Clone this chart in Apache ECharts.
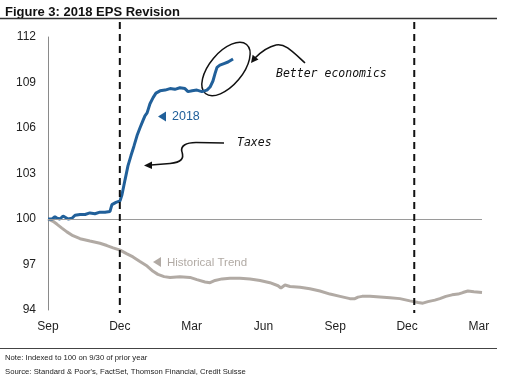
<!DOCTYPE html>
<html>
<head>
<meta charset="utf-8">
<script src="https://cdn.jsdelivr.net/npm/echarts@6/dist/echarts.min.js"></script>
<style>
html,body{margin:0;padding:0;background:#fff;}
#chart{width:513px;height:384px;}
</style>
</head>
<body>
<div id="chart"></div>
<script>
// x values are months since 30 Sep of the prior year
const xTickLabels = ['Sep', 'Dec', 'Mar', 'Jun', 'Sep', 'Dec', 'Mar'];
const yTicks = [94, 97, 100, 103, 106, 109, 112];
const eventMonths = [3.0, 15.3];

const eps2018Months = [0.00,0.17,0.29,0.38,0.50,0.63,0.71,0.84,1.00,1.13,1.34,1.55,1.75,1.96,2.17,2.38,2.59,2.67,2.84,3.01,3.09,3.22,3.34,3.47,3.59,3.72,3.84,3.97,4.05,4.14,4.26,4.39,4.51,4.68,4.89,5.10,5.30,5.51,5.72,5.85,6.02,6.22,6.43,6.64,6.77,6.89,6.98,7.06,7.18,7.35,7.52,7.73];
const eps2018Values = [100.0,100.0,100.15,100.05,100.0,100.2,100.1,100.0,100.05,100.25,100.3,100.3,100.4,100.35,100.45,100.45,100.5,100.95,101.1,101.2,101.6,102.6,103.5,104.2,104.8,105.5,106.0,106.5,106.8,107.0,107.6,108.0,108.3,108.45,108.5,108.6,108.55,108.65,108.6,108.4,108.45,108.5,108.4,108.5,108.7,109.1,109.6,110.0,110.15,110.25,110.35,110.55];

const histMonths = [0,0.21,0.38,0.58,0.79,1.04,1.34,1.75,2.17,2.46,2.72,3.01,3.30,3.55,3.84,4.14,4.39,4.59,4.85,5.10,5.51,5.93,6.22,6.56,6.77,6.98,7.27,7.60,8.02,8.44,8.86,9.27,9.61,9.73,9.90,10.11,10.53,10.94,11.36,11.78,12.20,12.61,12.82,12.95,13.12,13.45,13.87,14.29,14.70,15.12,15.46,15.66,15.87,16.16,16.37,16.62,16.88,17.13,17.33,17.54,17.79,18.13];
const histValues = [100,99.85,99.65,99.4,99.15,98.9,98.7,98.55,98.4,98.25,98.1,97.95,97.7,97.5,97.2,96.9,96.55,96.35,96.2,96.15,96.2,96.15,96.0,95.85,95.8,95.95,96.05,96.1,96.1,96.05,95.95,95.8,95.6,95.45,95.65,95.55,95.5,95.4,95.25,95.05,94.9,94.75,94.75,94.85,94.9,94.9,94.85,94.8,94.75,94.6,94.5,94.45,94.55,94.65,94.75,94.9,95.0,95.05,95.15,95.25,95.2,95.15];

const BLUE = '#21609a';
const GRAY = '#b1aaa4';
const BASE_FONT = '"Liberation Sans", Arial, sans-serif';
const HAND_FONT = '"DejaVu Sans Mono", monospace';

const chart = echarts.init(document.getElementById('chart'), null, {renderer: 'canvas'});

const zip = (xs, ys) => xs.map((x, i) => [x, ys[i]]);

const option = {
  animation: false,
  backgroundColor: '#fff',
  grid: {left: 48, top: 37, width: 434, height: 273, containLabel: false},
  xAxis: {
    type: 'value', min: 0, max: 18.13, interval: 3,
    axisLine: {show: false}, axisTick: {show: false}, splitLine: {show: false},
    axisLabel: {
      margin: 11, color: '#222', fontSize: 12, fontFamily: BASE_FONT,
      showMaxLabel: false,
      formatter: v => { const i = Math.round(v / 3); return Math.abs(v - i * 3) < 1e-6 ? (xTickLabels[i] || '') : ''; }
    }
  },
  yAxis: {
    type: 'value', min: yTicks[0], max: yTicks[yTicks.length - 1], interval: 3,
    axisLine: {show: true, lineStyle: {color: '#8a8a8a', width: 1}},
    axisTick: {show: false}, splitLine: {show: false},
    axisLabel: {margin: 12, color: '#222', fontSize: 12, fontFamily: BASE_FONT}
  },
  series: [
    {
      name: 'Historical Trend', type: 'line', data: zip(histMonths, histValues),
      showSymbol: false, smooth: false, z: 2,
      lineStyle: {color: GRAY, width: 3},
      markLine: {
        silent: true, symbol: 'none', label: {show: false},
        lineStyle: {color: '#9a9a9a', width: 1, type: 'solid'},
        data: [{yAxis: 100}]
      }
    },
    {
      name: '2018', type: 'line', data: zip(eps2018Months, eps2018Values),
      showSymbol: false, smooth: false, z: 3,
      lineStyle: {color: BLUE, width: 3}
    }
  ]
};
chart.setOption(option);

function bez(x1, y1, c1x, c1y, c2x, c2y, x2, y2) {
  return {type: 'bezierCurve', shape: {x1: x1, y1: y1, cpx1: c1x, cpy1: c1y, cpx2: c2x, cpy2: c2y, x2: x2, y2: y2},
    style: {fill: null, stroke: '#111', lineWidth: 1.6}};
}
function seg(x1, y1, x2, y2) {
  return {type: 'line', shape: {x1: x1, y1: y1, x2: x2, y2: y2}, style: {stroke: '#111', lineWidth: 1.6}};
}

function buildGraphics() {
  const g = [];
  // title
  g.push({type: 'text', x: 5, y: 12, style: {text: 'Figure 3: 2018 EPS Revision', font: 'bold 13px ' + BASE_FONT, fill: '#111', verticalAlign: 'middle'}});
  g.push({type: 'line', shape: {x1: 0, y1: 18.5, x2: 497, y2: 18.5}, style: {stroke: '#333', lineWidth: 1.5}});
  // footer
  g.push({type: 'line', shape: {x1: 0, y1: 348.5, x2: 497, y2: 348.5}, style: {stroke: '#444', lineWidth: 1}});
  g.push({type: 'text', x: 5, y: 358, style: {text: 'Note: Indexed to 100 on 9/30 of prior year', font: '7.7px ' + BASE_FONT, fill: '#222', verticalAlign: 'middle'}});
  g.push({type: 'text', x: 5, y: 372, style: {text: "Source: Standard & Poor's, FactSet, Thomson Financial, Credit Suisse", font: '7.7px ' + BASE_FONT, fill: '#222', verticalAlign: 'middle'}});
  // event dashed lines
  eventMonths.forEach(m => {
    const p = chart.convertToPixel({gridIndex: 0}, [m, 100]);
    g.push({type: 'line', z: 5, shape: {x1: p[0], y1: 22, x2: p[0], y2: 313}, style: {stroke: '#111', lineWidth: 2, lineDash: [7, 5]}});
  });
  // series labels
  g.push({type: 'polygon', shape: {points: [[158, 116.5], [166, 111.5], [166, 121.5]]}, style: {fill: BLUE}});
  g.push({type: 'text', x: 172, y: 117, style: {text: '2018', font: '12.5px ' + BASE_FONT, fill: BLUE, verticalAlign: 'middle'}});
  g.push({type: 'polygon', shape: {points: [[153, 262], [161, 257], [161, 267]]}, style: {fill: GRAY}});
  g.push({type: 'text', x: 167, y: 262.5, style: {text: 'Historical Trend', font: '11.5px ' + BASE_FONT, fill: GRAY, verticalAlign: 'middle'}});
  // annotations
  g.push({type: 'ellipse', x: 226, y: 69, rotation: 50 * Math.PI / 180, shape: {cx: 0, cy: 0, rx: 32, ry: 16.5}, style: {fill: null, stroke: '#111', lineWidth: 1.5}});
  g.push(bez(305, 63, 293, 52, 285, 43, 276, 45));
  g.push(bez(276, 45, 267, 47, 260, 53, 255, 58));
  g.push({type: 'polygon', shape: {points: [[251, 63], [252.6, 54.8], [258.5, 59.6]]}, style: {fill: '#111'}});
  g.push({type: 'text', x: 276, y: 74, style: {text: 'Better economics', font: 'italic 11.5px ' + HAND_FONT, fill: '#111', verticalAlign: 'middle'}});
  g.push(seg(224, 143, 196, 142.5));
  g.push(bez(196, 142.5, 186, 142.5, 180, 146, 182, 152));
  g.push(bez(182, 152, 184, 158, 182, 162.5, 170, 163.5));
  g.push(seg(170, 163.5, 151, 165));
  g.push({type: 'polygon', shape: {points: [[144, 165.5], [152, 161.5], [152, 169]]}, style: {fill: '#111'}});
  g.push({type: 'text', x: 237, y: 143, style: {text: 'Taxes', font: 'italic 11.5px ' + HAND_FONT, fill: '#111', verticalAlign: 'middle'}});
  return g;
}
chart.setOption({graphic: buildGraphics()});
</script>
</body>
</html>
